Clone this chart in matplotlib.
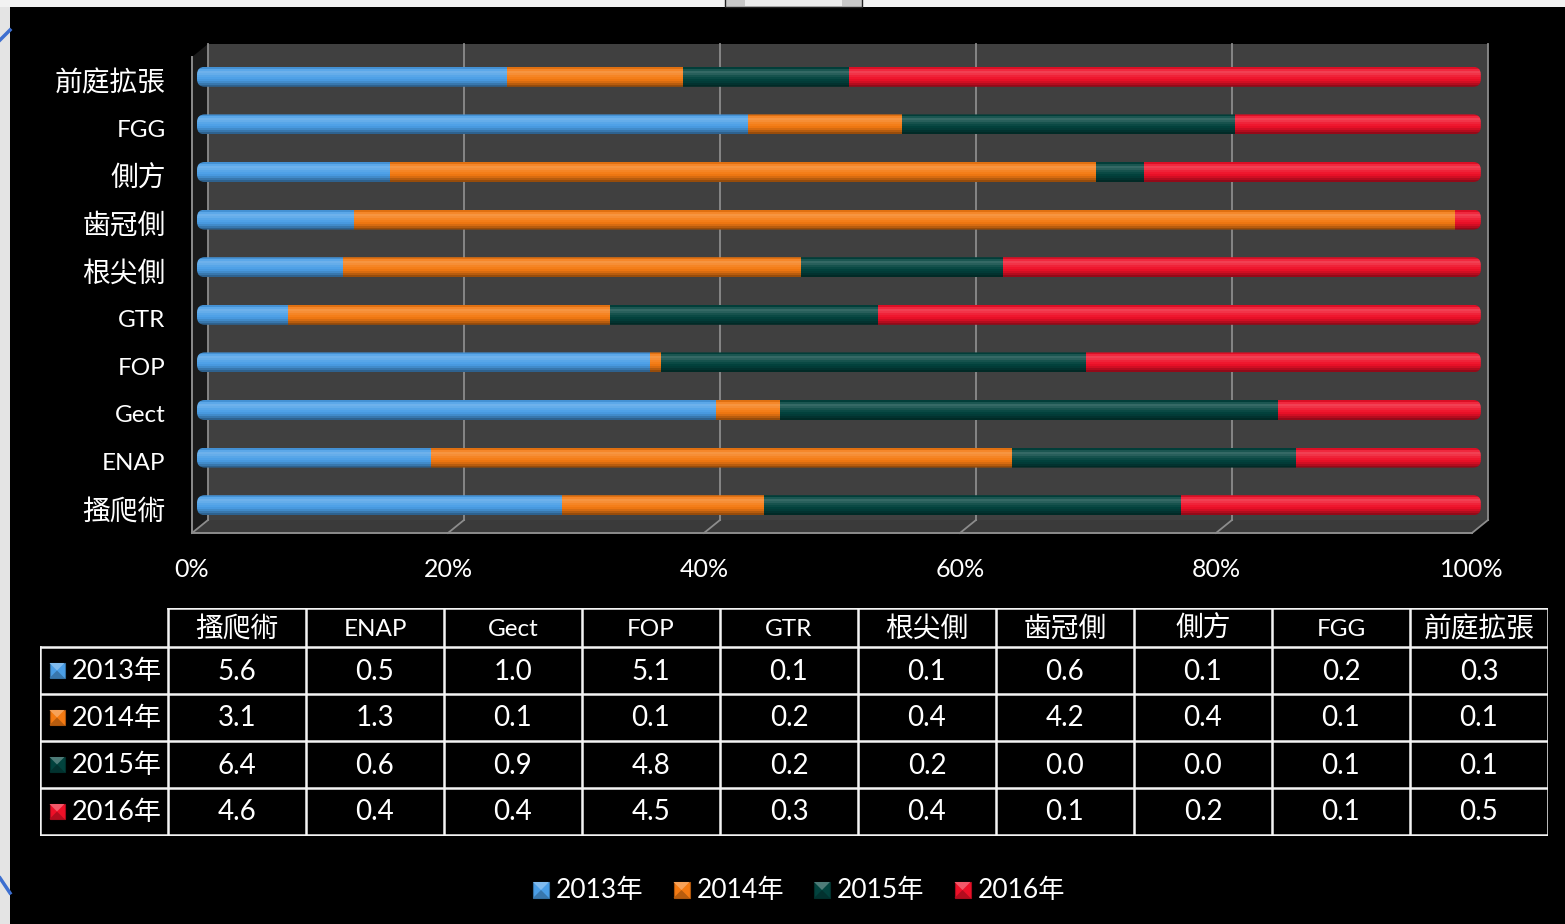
import numpy as np
import matplotlib.pyplot as plt
from matplotlib.patches import Rectangle, Polygon, FancyBboxPatch
from matplotlib.colors import to_rgb

plt.rcParams['font.family'] = ['Lato', 'Noto Sans CJK TC', 'DejaVu Sans']

# ---- data (bottom row of the chart first, same order as the table) -------
categories = ["搔爬術", "ENAP", "Gect", "FOP", "GTR",
              "根尖側", "歯冠側", "側方", "FGG", "前庭拡張"]
years = ["2013年", "2014年", "2015年", "2016年"]
y2013 = [5.6, 0.52, 0.97, 5.12, 0.052, 0.125, 0.6, 0.113, 0.215, 0.256]
y2014 = [3.1, 1.29, 0.12, 0.13, 0.183, 0.392, 4.2, 0.412, 0.06, 0.146]
y2015 = [6.4, 0.63, 0.93, 4.81, 0.152, 0.173, 0.0, 0.028, 0.13, 0.137]
y2016 = [4.6, 0.41, 0.38, 4.46, 0.343, 0.409, 0.1, 0.197, 0.096, 0.522]
x_ticks = [0, 20, 40, 60, 80, 100]
colors = ["#4a9ee6", "#f47a12", "#02433e", "#ee1028"]

series = np.array([y2013, y2014, y2015, y2016])
shares = series / series.sum(axis=0) * 100

W, H = 1565, 924


def shade(c, f):
    r = np.array(to_rgb(c))
    return tuple(r + (1 - r) * f) if f > 0 else tuple(r * (1 + f))


def draw_key(ax, xc, yc, s, color):
    # little "pyramid" square like the Office legend keys
    x0, x1, y0, y1 = xc - s / 2, xc + s / 2, yc - s / 2, yc + s / 2
    ax.add_patch(Rectangle((x0, y0), s, s, fc=color, ec=shade(color, -0.3), lw=0.8))
    ax.add_patch(Polygon([(x0, y0), (x1, y0), (xc, yc)], fc=shade(color, 0.3), ec='none'))
    ax.add_patch(Polygon([(x0, y1), (x1, y1), (xc, yc)], fc=shade(color, -0.25), ec='none'))


fig = plt.figure(figsize=(W / 100, H / 100), dpi=100)
fig.patch.set_facecolor('#e4e4e4')

# ---- background (slide frame) -------------------------------------------
bg = fig.add_axes([0, 0, 1, 1], zorder=0)
bg.set_xlim(0, W)
bg.set_ylim(H, 0)
bg.axis('off')
bg.add_patch(Rectangle((10, 7), W, H, fc='black', ec='none'))
bg.add_patch(Rectangle((0, 0), W, 7, fc='#f2f2f2', ec='none'))
bg.add_patch(Rectangle((725, -2), 137, 9, fc='#c8c8c8', ec='#202020', lw=1))
bg.add_patch(Rectangle((745, -2), 97, 8, fc='#ececec', ec='none'))
bg.plot([0, 10], [40, 30], color='#3d6fd0', lw=2.5)
bg.plot([0, 10], [878, 893], color='#3d6fd0', lw=2.5)

# ---- legend ---------------------------------------------------------------
for k, (lab, col) in enumerate(zip(years, colors)):
    x = 541 + 140.5 * k
    draw_key(bg, x, 890, 16, col)
    bg.text(x + 15, 890, lab, color='white', fontsize=19, va='center', ha='left')

# ---- 3D-ish stacked bar chart ---------------------------------------------
ax = fig.add_axes([192 / W, (H - 533) / H, 1280 / W, 476 / H], zorder=2)
ax.set_xlim(0, 100)
ax.set_ylim(-0.5, 9.5)
ax.patch.set_visible(False)
for sp in ax.spines.values():
    sp.set_visible(False)

DX, DY = 1.25, 0.273       # depth of the back wall
BX, BY = 0.39, 0.084       # plane the bars sit in
BS = 1.003                 # bar plane is a touch wider (perspective)
BH = 0.42
grid_c = '#8c8c8c'

ax.add_patch(Rectangle((DX, -0.5 + DY), 100, 10, fc='#404040', ec='none',
                       clip_on=False, zorder=0.5))
ax.add_patch(Polygon([(0, -0.5), (0, 9.5), (DX, 9.5 + DY), (DX, -0.5 + DY)],
                     fc='#1b1b1b', ec='none', clip_on=False, zorder=0.6))
ax.add_patch(Polygon([(0, -0.5), (100, -0.5), (100 + DX, -0.5 + DY), (DX, -0.5 + DY)],
                     fc='#3a3a3a', ec='none', clip_on=False, zorder=0.6))
ax.plot([0, 0], [-0.5, 9.5], color=grid_c, lw=1.4, clip_on=False, zorder=0.8)
ax.plot([0, 100], [-0.5, -0.5], color=grid_c, lw=1.4, clip_on=False, zorder=0.8)
for t in x_ticks:
    ax.plot([t + DX, t + DX], [-0.5 + DY, 9.5 + DY], color=grid_c, lw=1.3,
            clip_on=False, zorder=0.7)
    ax.plot([t, t + DX], [-0.5, -0.5 + DY], color=grid_c, lw=1.3,
            clip_on=False, zorder=0.8)

ypos = np.arange(len(categories))
clips = []
for i in ypos:
    cp = FancyBboxPatch((BX, i + BY - BH / 2), 100 * BS, BH,
                        boxstyle="round,pad=0,rounding_size=0.6",
                        mutation_aspect=12.84 / 47.6, fc='none', ec='none')
    ax.add_patch(cp)
    clips.append(cp)

profile = [-0.38, -0.25, -0.12, -0.03, 0.03, 0.08, 0.15, 0.2, 0.1, -0.08]
NS = len(profile)
sh = BH / NS
lefts = np.zeros(len(categories))
for s, col in enumerate(colors):
    for k, f in enumerate(profile):
        bars = ax.barh(ypos + BY - BH / 2 + (k + 0.5) * sh, shares[s] * BS,
                       left=lefts * BS + BX, height=sh * 1.05,
                       color=shade(col, f), lw=0, zorder=2)
        for rect, cp in zip(bars, clips):
            rect.set_clip_path(cp)
            rect.set_clip_box(None)
    lefts += shares[s]

ax.set_yticks(ypos)
ax.set_yticklabels(categories)
ax.set_xticks(x_ticks)
ax.set_xticklabels([f"{t}%" for t in x_ticks])
ax.tick_params(axis='y', length=0, pad=19, colors='white')
ax.tick_params(axis='x', length=0, pad=18, colors='white', labelsize=18)
for lab in ax.get_yticklabels():
    lab.set_fontsize(17.5 if lab.get_text().isascii() else 20)

# ---- data table -----------------------------------------------------------
tab = fig.add_axes([40 / W, (H - 836) / H, 1508 / W, 228 / H], zorder=2)
tab.set_xlim(0, 1508)
tab.set_ylim(228, 0)
tab.axis('off')

col_edges = [0] + [128 + 138 * k for k in range(len(categories) + 1)]
row_edges = [0, 39, 86, 133, 180, 227]
lc = '#f4f4f4'
lw = 1.8
tab.plot([128, 1508], [row_edges[0]] * 2, color=lc, lw=lw)
for r in row_edges[1:]:
    tab.plot([0, 1508], [r, r], color=lc, lw=lw)
tab.plot([0, 0], [row_edges[1], row_edges[-1]], color=lc, lw=lw)
for c in col_edges[1:]:
    tab.plot([c, c], [0, row_edges[-1]], color=lc, lw=lw)

for j, cat in enumerate(categories):
    xc = (col_edges[j + 1] + col_edges[j + 2]) / 2
    tab.text(xc, 21, cat, color='white', ha='center', va='center',
             fontsize=17.5 if cat.isascii() else 20)
    for s in range(len(years)):
        yc = (row_edges[s + 1] + row_edges[s + 2]) / 2
        tab.text(xc, yc + 1, f"{series[s][j]:.1f}", color='white',
                 ha='center', va='center', fontsize=20)

for s, (lab, col) in enumerate(zip(years, colors)):
    yc = (row_edges[s + 1] + row_edges[s + 2]) / 2
    draw_key(tab, 17, yc, 15, col)
    tab.text(32, yc + 1, lab, color='white', ha='left', va='center', fontsize=19.5)

fig.savefig("out.png", dpi=100, facecolor=fig.get_facecolor())
